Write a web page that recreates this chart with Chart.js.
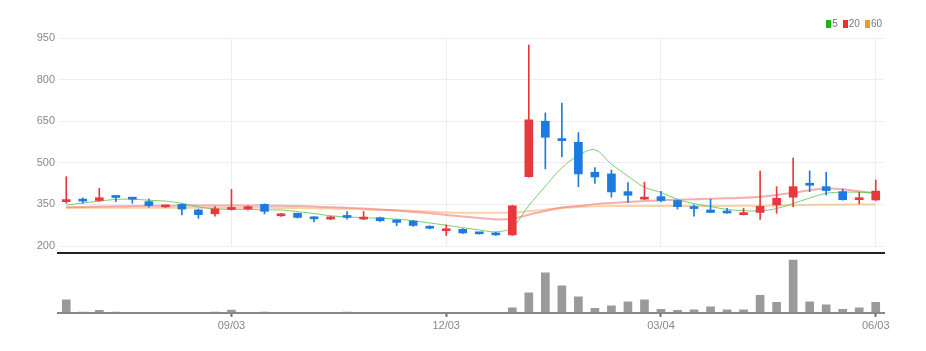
<!DOCTYPE html>
<html>
<head>
<meta charset="utf-8">
<script src="https://cdn.jsdelivr.net/npm/chart.js@4/dist/chart.umd.min.js"></script>
<style>
  body { margin: 0; background: #fff; }
  #wrap { position: relative; width: 926px; height: 351px; }
  #priceChart { position: absolute; left: 0; top: 0; }
  #volChart { position: absolute; left: 0; top: 250px; }
  #legend {
    position: absolute; top: 18px; right: 44px;
    display: flex; align-items: center;
    font: 10px "Liberation Sans Narrow", "Liberation Sans", sans-serif; color: #777;
  }
  #legend span.item { display: flex; align-items: center; margin-left: 5px; }
  #legend span.box { display: inline-block; width: 5px; height: 8px; margin-right: 1px; }
</style>
</head>
<body>
<div id="wrap">
  <canvas id="priceChart" width="926" height="262"></canvas>
  <canvas id="volChart" width="926" height="101"></canvas>
  <div id="legend"></div>
</div>
<script>
// weekly candles, 2018-06-25 .. 2019-06-03
const dates = [
  "06/25", "07/02", "07/09", "07/16", "07/23", "07/30", "08/06", "08/13", "08/20", "08/27",
  "09/03", "09/10", "09/17", "09/24", "10/01", "10/08", "10/15", "10/22", "10/29", "11/05",
  "11/12", "11/19", "11/26", "12/03", "12/10", "12/17", "12/24", "12/31", "01/07", "01/14",
  "01/21", "01/28", "02/04", "02/11", "02/18", "02/25", "03/04", "03/11", "03/18", "03/25",
  "04/01", "04/08", "04/15", "04/22", "04/29", "05/06", "05/13", "05/20", "05/27", "06/03"
];
const tickLabels = ["09/03", "12/03", "03/04", "06/03"];

const opens = [360, 367, 364, 380, 374, 360, 341, 350, 330, 316, 332, 334, 350, 309, 318, 304, 297, 307, 297, 302,
  294, 290, 271, 255, 260, 248, 247, 240, 450, 650, 584, 574, 466, 460, 396, 369, 378, 364, 342, 330,
  325, 313, 321, 348, 376, 426, 414, 396, 367, 366];
const highs = [450, 374, 408, 381, 375, 369, 348, 352, 333, 342, 404, 345, 352, 317, 319, 306, 307, 324, 324, 304,
  295, 292, 273, 276, 263, 249, 249, 347, 925, 680, 715, 609, 483, 474, 429, 430, 397, 366, 348, 369,
  336, 336, 470, 414, 517, 471, 466, 405, 394, 438];
const lows = [354, 354, 361, 360, 354, 340, 339, 312, 300, 308, 330, 330, 316, 307, 301, 287, 295, 297, 295, 289,
  273, 271, 262, 238, 245, 243, 238, 238, 448, 478, 522, 414, 426, 376, 357, 367, 360, 333, 308, 320,
  318, 312, 296, 318, 342, 396, 384, 365, 352, 364];
const closes = [366, 362, 374, 375, 369, 346, 345, 333, 313, 334, 336, 342, 325, 315, 303, 298, 305, 303, 303, 291,
  285, 274, 264, 260, 247, 244, 240, 345, 655, 592, 580, 460, 449, 395, 383, 373, 364, 342, 335, 321,
  319, 318, 343, 372, 414, 419, 400, 367, 371, 398];
const volumes = [130000, 8000, 25000, 8000, 3000, 3000, 2000, 3000, 2000, 6000, 28000, 4000, 6000, 3000, 2000, 3000, 2000, 6000, 3000, 2000,
  2000, 3000, 3000, 5000, 3000, 2000, 3000, 50000, 200000, 400000, 270000, 160000, 45000, 70000, 110000, 130000, 35000, 25000, 30000, 60000,
  30000, 30000, 175000, 105000, 530000, 110000, 80000, 35000, 50000, 105000];

// moving averages
const ma5 = [347, 355, 362, 368, 369, 365, 362, 354, 341, 334, 332, 332, 330, 330, 324, 317, 309, 305, 302, 300,
  297, 291, 283, 275, 266, 258, 251, 267, 346, 415, 482, 526, 547, 495, 452, 412, 393, 368, 353, 342,
  332, 327, 327, 335, 353, 373, 390, 394, 394, 391];
const ma20 = [340, 341, 342, 343, 344, 345, 345, 346, 346, 346, 346, 346, 346, 345, 344, 342, 340, 338, 335, 332,
  328, 323, 318, 312, 306, 301, 296, 298, 313, 326, 339, 344, 351, 355, 359, 362, 365, 367, 369, 370,
  372, 374, 378, 384, 392, 401, 407, 405, 397, 390];
const ma60 = [337, 337, 338, 338, 338, 338, 338, 338, 338, 338, 338, 338, 338, 337, 337, 336, 335, 334, 332, 330,
  329, 327, 324, 321, 320, 320, 320, 320, 325, 331, 337, 341, 343, 344, 344, 344, 344, 344, 344, 344,
  344, 345, 345, 346, 347, 348, 349, 349, 350, 350];

const maNames = ["5", "20", "60"];
const maLegendColors = ["#22b022", "#ee2d2d", "#f0962a"];
const maLineColors = ["rgba(90, 200, 90, 0.85)", "rgba(240, 120, 120, 0.6)", "rgba(245, 180, 110, 0.6)"];

const red = "#e8383d";
const blue = "#1c7be0";
const candleColors = closes.map((c, i) => (c >= opens[i] ? red : blue));

const labelFont = { family: "'Liberation Sans Narrow', 'Liberation Sans', sans-serif", size: 11 };

function keepTicks(scale) {
  scale.ticks = scale.ticks.filter(t => tickLabels.includes(dates[t.value]));
}

function maLine(idx, values, width, order) {
  return {
    type: "line",
    label: maNames[idx],
    data: values,
    borderColor: maLineColors[idx],
    backgroundColor: maLegendColors[idx],
    borderWidth: width,
    pointRadius: 0,
    tension: 0.35,
    order: order
  };
}

new Chart(document.getElementById("priceChart"), {
  type: "bar",
  data: {
    labels: dates,
    datasets: [
      maLine(0, ma5, 1, 3),
      maLine(1, ma20, 2, 4),
      maLine(2, ma60, 2, 5),
      {
        label: "wick",
        data: lows.map((l, i) => [l, highs[i]]),
        backgroundColor: candleColors,
        barThickness: 1,
        grouped: false,
        order: 1
      },
      {
        label: "body",
        data: opens.map((o, i) => [o, closes[i]]),
        backgroundColor: candleColors,
        barThickness: 8,
        minBarLength: 2,
        grouped: false,
        order: 0
      }
    ]
  },
  options: {
    responsive: false,
    animation: false,
    layout: { padding: { top: 38, right: 42, bottom: 16, left: 0 } },
    plugins: { legend: { display: false }, tooltip: { enabled: false } },
    scales: {
      x: {
        offset: true,
        grid: { offset: false, color: "#eeeeee", drawTicks: false },
        border: { display: false },
        ticks: { display: false },
        afterBuildTicks: keepTicks
      },
      y: {
        min: 200,
        max: 950,
        ticks: { stepSize: 150, padding: 3, color: "#888", font: labelFont },
        grid: { color: "#eeeeee", drawTicks: false },
        border: { display: false },
        afterFit: s => { s.width = 58; }
      }
    }
  }
});

new Chart(document.getElementById("volChart"), {
  type: "bar",
  data: {
    labels: dates,
    datasets: [{ label: "volume", data: volumes, backgroundColor: "#9a9a9a", barThickness: 8 }]
  },
  options: {
    responsive: false,
    animation: false,
    layout: { padding: { top: 3, right: 42, bottom: 15, left: 58 } },
    plugins: { legend: { display: false }, tooltip: { enabled: false } },
    scales: {
      x: {
        offset: true,
        grid: { offset: false, drawOnChartArea: false, drawTicks: true, tickLength: 4, tickWidth: 2, tickColor: "#666" },
        border: { color: "#888", width: 2, z: 1 },
        ticks: { color: "#888", font: labelFont, padding: 3, maxRotation: 0 },
        afterBuildTicks: keepTicks
      },
      xTop: {
        type: "category",
        position: "top",
        display: true,
        offset: true,
        grid: { display: false, drawTicks: false },
        ticks: { display: false },
        border: { color: "#222", width: 2 }
      },
      y: { display: false, min: 0, max: 600000 }
    }
  }
});

// small legend, top right
const legend = document.getElementById("legend");
maNames.forEach((name, i) => {
  const item = document.createElement("span");
  item.className = "item";
  const box = document.createElement("span");
  box.className = "box";
  box.style.background = maLegendColors[i];
  item.appendChild(box);
  item.appendChild(document.createTextNode(name));
  legend.appendChild(item);
});
</script>
</body>
</html>
